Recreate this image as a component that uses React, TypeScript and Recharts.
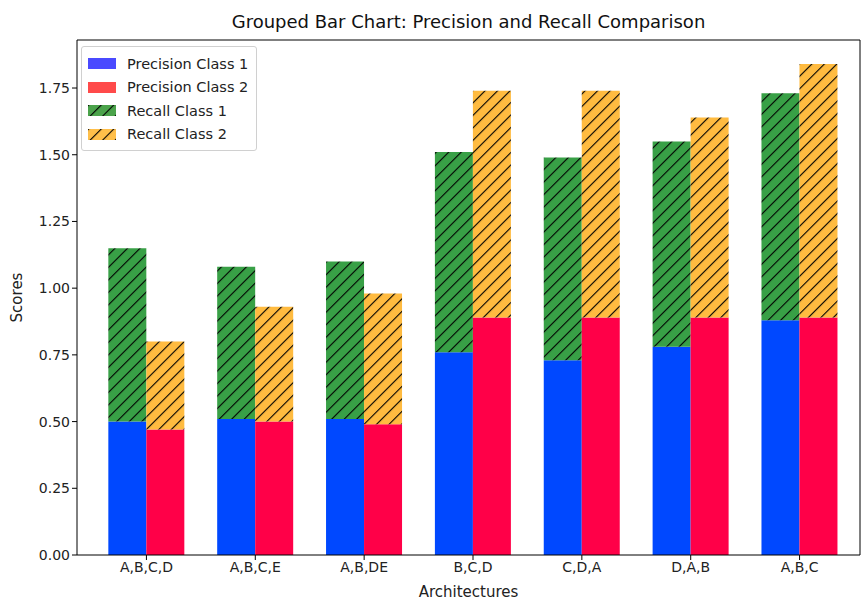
import { Bar, BarChart, ReferenceLine, XAxis, YAxis } from 'recharts';

const CATEGORIES = ['A,B,C,D', 'A,B,C,E', 'A,B,DE', 'B,C,D', 'C,D,A', 'D,A,B', 'A,B,C'];
const PRECISION_1 = [0.5, 0.51, 0.51, 0.76, 0.73, 0.78, 0.88];
const PRECISION_2 = [0.47, 0.5, 0.49, 0.89, 0.89, 0.89, 0.89];
const RECALL_1 = [0.65, 0.57, 0.59, 0.75, 0.76, 0.77, 0.85];
const RECALL_2 = [0.33, 0.43, 0.49, 0.85, 0.85, 0.75, 0.95];
const Y_TICKS = [0, 0.25, 0.5, 0.75, 1, 1.25, 1.5, 1.75];
const Y_MAX = 1.93;

const FONT = '"DejaVu Sans", sans-serif';

const data = CATEGORIES.map((name, i) => ({
    name,
    p1: PRECISION_1[i],
    p2: PRECISION_2[i],
    r1: RECALL_1[i],
    r2: RECALL_2[i],
}));

const LEGEND_ITEMS = [
    { label: 'Precision Class 1', fill: '#4a4aff' },
    { label: 'Precision Class 2', fill: '#ff4a4a' },
    { label: 'Recall Class 1', fill: 'url(#hatchGreenLegend)' },
    { label: 'Recall Class 2', fill: 'url(#hatchOrangeLegend)' },
];

function HatchDefs() {
    const pat = (id: string, color: string) => (
        <pattern
            id={id}
            patternUnits="userSpaceOnUse"
            width={8.84}
            height={8.84}
            patternTransform="rotate(45)"
        >
            <rect width={8.84} height={8.84} fill={color} />
            <line x1={0} y1={-1} x2={0} y2={10} stroke="#000" strokeWidth={2.2} />
        </pattern>
    );
    return (
        <svg width={0} height={0} style={{ position: 'absolute' }}>
            <defs>
                {pat('hatchGreen', '#38a046')}
                {pat('hatchOrange', '#ffbb40')}
                {pat('hatchGreenLegend', '#4ba34b')}
                {pat('hatchOrangeLegend', '#ffbf4a')}
            </defs>
        </svg>
    );
}

function ChartLegend() {
    return (
        <div
            style={{
                position: 'absolute',
                left: 81,
                top: 46,
                border: '1px solid #d0d0d0',
                borderRadius: 3,
                background: '#fff',
                padding: '5px 8px 4px 6px',
                fontFamily: FONT,
                fontSize: 14.5,
                color: '#222',
            }}
        >
            {LEGEND_ITEMS.map((item) => (
                <div key={item.label} style={{ display: 'flex', alignItems: 'center', height: 23.5 }}>
                    <svg width={28} height={11} style={{ marginRight: 11 }}>
                        <rect width={28} height={11} fill={item.fill} />
                    </svg>
                    <span>{item.label}</span>
                </div>
            ))}
        </div>
    );
}

export default function App() {
    return (
        <div style={{ position: 'absolute', left: 0, top: 0, width: 862, height: 601, background: '#fff' }}>
            <HatchDefs />
            <div
                style={{
                    position: 'absolute',
                    left: 77,
                    width: 783,
                    top: 11,
                    textAlign: 'center',
                    fontFamily: FONT,
                    fontSize: 18,
                    color: '#111',
                }}
            >
                Grouped Bar Chart: Precision and Recall Comparison
            </div>
            <BarChart
                width={862}
                height={601}
                data={data}
                margin={{ top: 40, right: 1, bottom: 0, left: 0 }}
                barCategoryGap="15%"
                barGap={0}
            >
                <XAxis
                    dataKey="name"
                    height={46}
                    padding={{ left: 15, right: 6 }}
                    stroke="#000"
                    tickSize={5}
                    tick={{ fill: '#222', fontFamily: FONT, fontSize: 14 }}
                    label={{
                        value: 'Architectures',
                        position: 'insideBottom',
                        offset: 4,
                        fill: '#222',
                        fontFamily: FONT,
                        fontSize: 15,
                    }}
                />
                <YAxis
                    yAxisId="left"
                    width={77}
                    domain={[0, Y_MAX]}
                    ticks={Y_TICKS}
                    allowDataOverflow
                    stroke="#000"
                    tickSize={5}
                    tickFormatter={(v: number) => v.toFixed(2)}
                    tick={{ fill: '#222', fontFamily: FONT, fontSize: 14 }}
                    label={{
                        value: 'Scores',
                        angle: -90,
                        position: 'insideLeft',
                        offset: 17,
                        fill: '#222',
                        fontFamily: FONT,
                        fontSize: 15,
                        style: { textAnchor: 'middle' },
                    }}
                />
                <YAxis yAxisId="right" orientation="right" width={1} tick={false} stroke="#000" domain={[0, Y_MAX]} />
                <ReferenceLine yAxisId="left" y={Y_MAX} stroke="#000" strokeWidth={1} />
                <Bar yAxisId="left" dataKey="p1" stackId="c1" fill="#0048ff" isAnimationActive={false} />
                <Bar yAxisId="left" dataKey="r1" stackId="c1" fill="url(#hatchGreen)" isAnimationActive={false} />
                <Bar yAxisId="left" dataKey="p2" stackId="c2" fill="#ff0048" isAnimationActive={false} />
                <Bar yAxisId="left" dataKey="r2" stackId="c2" fill="url(#hatchOrange)" isAnimationActive={false} />
            </BarChart>
            <ChartLegend />
        </div>
    );
}
